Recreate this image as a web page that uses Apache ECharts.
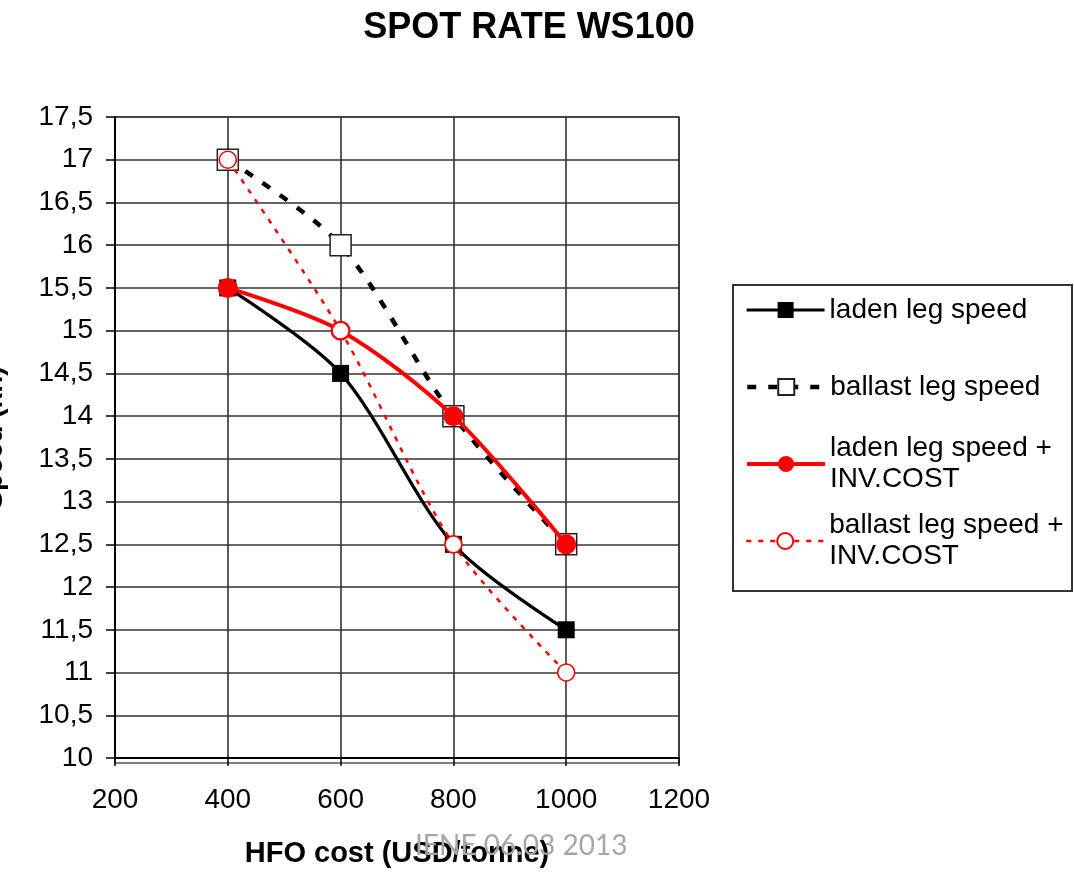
<!DOCTYPE html>
<html>
<head>
<meta charset="utf-8">
<script src="https://cdn.jsdelivr.net/npm/echarts@6/dist/echarts.min.js"></script>
<style>
  html, body { margin: 0; padding: 0; background: #fff; }
  #chart { width: 1074px; height: 873px; }
</style>
</head>
<body>
<div id="chart"></div>
<script>
// HFO cost levels (USD/tonne)
const hfoCost = [400, 600, 800, 1000];
// Optimal speeds (knots) per HFO cost
const ladenSpeed = [15.5, 14.5, 12.5, 11.5];
const ballastSpeed = [17, 16, 14, 12.5];
const ladenSpeedInv = [15.5, 15, 14, 12.5];
const ballastSpeedInv = [17, 15, 12.5, 11];

const seriesNames = [
  'laden leg speed',
  'ballast leg speed',
  'laden leg speed +\nINV.COST',
  'ballast leg speed +\nINV.COST'
];

const pairs = ys => hfoCost.map((x, i) => [x, ys[i]]);
const FONT = 'Liberation Sans, Arial, sans-serif';

const chart = echarts.init(document.getElementById('chart'), null, { renderer: 'canvas' });

// one legend block per series so each row sits at its own height
function legendRow(name, centerY, twoLine) {
  const lh = 31;
  return {
    show: true,
    data: [{
      name: name,
      textStyle: twoLine ? { padding: [lh, 0, 0, 0] } : {}
    }],
    left: 745,
    top: twoLine ? centerY - (lh * 3) / 2 : centerY - lh / 2,
    padding: 0,
    itemWidth: 78,
    itemHeight: 20,
    itemGap: 0,
    selectedMode: false,
    lineStyle: { width: 'inherit', type: 'inherit' },
    textStyle: {
      fontFamily: FONT,
      fontSize: 28,
      lineHeight: lh,
      color: '#000',
      padding: 0
    }
  };
}

const option = {
  backgroundColor: '#fff',
  animation: false,
  title: {
    text: 'SPOT RATE WS100',
    left: 524,
    textAlign: 'center',
    top: 5,
    textStyle: { fontFamily: FONT, fontSize: 36, fontWeight: 'bold', color: '#000' }
  },
  legend: [
    legendRow(seriesNames[0], 310, false),
    legendRow(seriesNames[1], 387, false),
    legendRow(seriesNames[2], 464, true),
    legendRow(seriesNames[3], 541, true)
  ],
  grid: { left: 115, right: 395, top: 117, bottom: 110, containLabel: false },
  xAxis: {
    type: 'value',
    min: 200, max: 1200, interval: 200,
    name: 'HFO cost (USD/tonne)',
    nameLocation: 'middle',
    nameGap: 81,
    nameTextStyle: { fontFamily: FONT, fontSize: 29, fontWeight: 'bold', color: '#000' },
    axisLine: { show: true, onZero: false, lineStyle: { color: '#000', width: 2 } },
    axisTick: { show: true, length: 8, lineStyle: { color: '#000', width: 1.5 } },
    axisLabel: { fontFamily: FONT, fontSize: 28, color: '#000', margin: 28, formatter: v => String(v) },
    splitLine: { show: true, lineStyle: { color: '#333', width: 1.6 } }
  },
  yAxis: {
    type: 'value',
    min: 10, max: 17.5, interval: 0.5,
    axisLine: { show: true, onZero: false, lineStyle: { color: '#000', width: 2 } },
    axisTick: { show: true, length: 9, lineStyle: { color: '#000', width: 1.5 } },
    axisLabel: {
      fontFamily: FONT, fontSize: 28, color: '#000', margin: 22,
      formatter: v => String(v).replace('.', ',')
    },
    splitLine: { show: true, lineStyle: { color: '#333', width: 1.6 } }
  },
  graphic: [
    // legend frame
    {
      type: 'rect',
      shape: { x: 733, y: 285, width: 339, height: 306 },
      style: { fill: 'none', stroke: '#333', lineWidth: 2 },
      z: 0, silent: true
    },
    // plot frame (top and right edges)
    {
      type: 'rect',
      shape: { x: 115, y: 117, width: 564, height: 646 },
      style: { fill: 'none', stroke: '#555', lineWidth: 1.6 },
      z: 0, silent: true
    },
    // vertical axis title, almost entirely beyond the left edge
    {
      type: 'text',
      x: 8, y: 438,
      rotation: Math.PI / 2,
      style: {
        text: 'Speed (kn)',
        font: 'bold 28px ' + FONT,
        fill: '#000',
        textAlign: 'center',
        textVerticalAlign: 'bottom'
      },
      silent: true
    },
    // date stamp
    {
      type: 'text',
      x: 415, y: 860,
      style: {
        text: 'IENE 06.03 2013',
        font: '28px Lato, "Open Sans", sans-serif',
        fill: '#a6a6a6',
        textAlign: 'left',
        textVerticalAlign: 'bottom'
      },
      z: 100, silent: true
    }
  ],
  series: [
    {
      name: seriesNames[0],
      type: 'line',
      data: pairs(ladenSpeed),
      smooth: 0.3,
      symbol: 'rect',
      symbolSize: 17,
      lineStyle: { color: '#000', width: 3.2 },
      itemStyle: { color: '#000', borderColor: '#000', borderWidth: 0 },
      z: 2
    },
    {
      name: seriesNames[1],
      type: 'line',
      data: pairs(ballastSpeed),
      smooth: 0.3,
      symbol: 'rect',
      symbolSize: 21,
      lineStyle: { color: '#000', width: 4.5, type: [9, 12] },
      itemStyle: { color: '#fff', borderColor: '#222', borderWidth: 1.5 },
      z: 3
    },
    {
      name: seriesNames[2],
      type: 'line',
      data: pairs(ladenSpeedInv),
      smooth: 0.3,
      symbol: 'circle',
      symbolSize: 20,
      lineStyle: { color: '#ff0000', width: 4 },
      itemStyle: { color: '#ff0000', borderColor: '#ff0000', borderWidth: 0 },
      z: 4
    },
    {
      name: seriesNames[3],
      type: 'line',
      data: pairs(ballastSpeedInv),
      smooth: 0.3,
      symbol: 'circle',
      symbolSize: 17,
      lineStyle: { color: '#ff0000', width: 2.5, type: [5, 7] },
      itemStyle: { color: '#fff', borderColor: '#ff0000', borderWidth: 1.6 },
      z: 5
    }
  ]
};

chart.setOption(option);
</script>
</body>
</html>
